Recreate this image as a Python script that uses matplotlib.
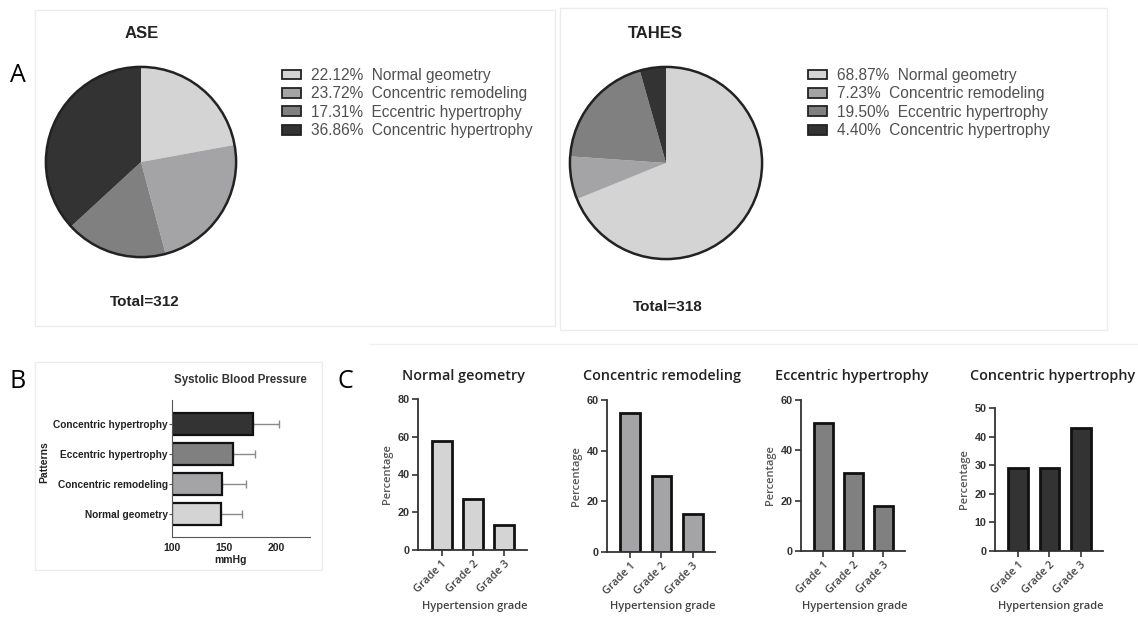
import matplotlib
matplotlib.use("Agg")
import matplotlib.pyplot as plt
from matplotlib.patches import Patch, Rectangle, Circle

# ---------------- data ----------------
patterns = ["Normal geometry", "Concentric remodeling", "Eccentric hypertrophy", "Concentric hypertrophy"]
ase_pct = [22.12, 23.72, 17.31, 36.86]
tahes_pct = [68.87, 7.23, 19.50, 4.40]
ase_total = 312
tahes_total = 318

sbp_mean = [147, 147.5, 158, 177]      # Normal, Conc. remodeling, Ecc. hypertrophy, Conc. hypertrophy
sbp_sd = [20, 23, 21, 25]

grades = ["Grade 1", "Grade 2", "Grade 3"]
grade_pct = {
    "Normal geometry": [57.5, 27, 13.5],
    "Concentric remodeling": [55, 30, 15],
    "Eccentric hypertrophy": [51, 31, 18],
    "Concentric hypertrophy": [29, 29, 43],
}
grade_ylim = {"Normal geometry": (80, 20), "Concentric remodeling": (60, 20),
              "Eccentric hypertrophy": (60, 20), "Concentric hypertrophy": (50, 10)}

colors = ["#d4d4d4", "#a4a4a6", "#808080", "#333333"]

W, H = 1138, 619
fig = plt.figure(figsize=(W / 100, H / 100), dpi=100)
fig.patch.set_facecolor("white")

def ax_px(x0, y0, x1, y1, **kw):
    return fig.add_axes([x0 / W, 1 - y1 / H, (x1 - x0) / W, (y1 - y0) / H], **kw)

def fx(x):
    return x / W

def fy(y):
    return 1 - y / H

# panel frames
for (x0, y0, x1, y1) in [(35, 10, 555, 326), (560, 8, 1107, 330), (35, 362, 322, 570)]:
    fig.patches.append(Rectangle((fx(x0), fy(y1)), fx(x1) - fx(x0), fy(y0) - fy(y1),
                                 transform=fig.transFigure, fill=False,
                                 edgecolor="#ececec", lw=1))
fig.lines.append(plt.Line2D([fx(370), fx(1138)], [fy(344), fy(344)],
                            transform=fig.transFigure, color="#f0f0f0", lw=1))

# panel letters
for txt, x, y in [("A", 18, 75), ("B", 18, 382), ("C", 345, 382)]:
    fig.text(fx(x), fy(y), txt, fontsize=18, family="Open Sans", ha="center", va="center")

# ---------------- Panel A pies ----------------
def draw_pie(cx, cy, r, pct, title, title_xy, total, total_xy, leg_xy):
    ax = ax_px(cx - r, cy - r, cx + r, cy + r)
    ax.pie(pct, colors=colors, startangle=90, counterclock=False, radius=1,
           wedgeprops=dict(edgecolor="none", linewidth=0))
    ax.add_patch(Circle((0, 0), 1, fill=False, edgecolor="#222222", lw=1.8))
    ax.set_xlim(-1.02, 1.02)
    ax.set_ylim(-1.02, 1.02)
    ax.set_aspect("auto")
    ax.axis("off")
    fig.text(fx(title_xy[0]), fy(title_xy[1]), title, fontsize=12, weight="bold",
             family="Liberation Sans", ha="center", va="center", color="#222222")
    fig.text(fx(total_xy[0]), fy(total_xy[1]), f"Total={total}", fontsize=11, weight="bold",
             family="Liberation Sans", ha="center", va="center", color="#222222")
    handles = [Patch(facecolor=c, edgecolor="#222222", lw=1.3) for c in colors]
    labels = [f"{p:.2f}%  {n}" for p, n in zip(pct, patterns)]
    fig.legend(handles, labels, loc="upper left", bbox_to_anchor=(fx(leg_xy[0]), fy(leg_xy[1])),
               frameon=False, handlelength=1.25, handleheight=0.6, handletextpad=0.62,
               labelspacing=0.22, borderaxespad=0, borderpad=0,
               prop=dict(family="Liberation Sans", size=11.2), labelcolor="#505050")

draw_pie(141, 162, 97, ase_pct, "ASE", (142, 33), ase_total, (145, 302), (282, 68))
draw_pie(666, 163, 98, tahes_pct, "TAHES", (655, 33), tahes_total, (668, 307), (808, 68))

# ---------------- Panel B ----------------
axb = ax_px(172, 400, 310, 537)
ypos = list(range(len(patterns)))
axb.barh(ypos, [m - 100 for m in sbp_mean], left=100, height=0.72, color=colors,
         edgecolor="#111111", lw=1.6, zorder=2)
axb.errorbar(sbp_mean, ypos, xerr=[[0] * 4, sbp_sd], fmt="none", ecolor="#8a8a8a",
             elinewidth=1.0, capsize=3, capthick=1.0, zorder=1)
axb.set_xlim(100, 232)
axb.set_ylim(-0.77, 3.8)
axb.set_xticks([100, 150, 200])
axb.set_yticks(ypos)
axb.set_yticklabels(patterns, fontsize=7.3, weight="bold", family="Liberation Sans", color="#222222")
axb.set_xticklabels(["100", "150", "200"], fontsize=7.5, weight="bold", family="Liberation Sans",
                    color="#222222")
for s in ["top", "right"]:
    axb.spines[s].set_visible(False)
axb.spines["left"].set_color("#555555")
axb.spines["bottom"].set_color("#555555")
axb.spines["bottom"].set_linestyle((0, (2, 1)))
axb.tick_params(axis="y", length=2, pad=1, color="#555555")
axb.tick_params(axis="x", length=0, pad=4)
fig.text(fx(240), fy(380), "Systolic Blood Pressure", fontsize=8.3, weight="bold",
         family="Liberation Sans", ha="center", va="center", color="#333333")
fig.text(fx(44), fy(462), "Patterns", fontsize=7.5, weight="bold", family="Liberation Sans",
         rotation=90, ha="center", va="center", color="#222222")
fig.text(fx(230), fy(560), "mmHg", fontsize=7.5, weight="bold", family="Liberation Sans",
         ha="center", va="center", color="#222222")

# ---------------- Panel C ----------------
c_axes = [(418, 399, 527, 550), (607, 400, 715, 552), (801, 400, 905, 551), (995, 408, 1103, 551)]
c_titles_x = [463, 662, 852, 1053]
for i, name in enumerate(patterns):
    x0, y0, x1, y1 = c_axes[i]
    ax = ax_px(x0, y0, x1, y1)
    vals = grade_pct[name]
    ax.bar(range(3), vals, width=0.64, color=colors[i], edgecolor="#111111", lw=2.0)
    top, step = grade_ylim[name]
    ax.set_ylim(0, top)
    ax.set_xlim(-0.75, 2.72)
    ax.set_yticks(range(0, top + 1, step))
    ax.set_yticklabels([str(v) for v in range(0, top + 1, step)], fontsize=7.8, weight="bold",
                       family="Liberation Sans", color="#333333")
    ax.set_xticks(range(3))
    ax.set_xticklabels(grades, rotation=45, ha="right", rotation_mode="anchor",
                       fontsize=7.8, family="Open Sans", weight="semibold", color="#444444")
    for s in ["top", "right"]:
        ax.spines[s].set_visible(False)
    for s in ["left", "bottom"]:
        ax.spines[s].set_linewidth(1.3)
        ax.spines[s].set_color("#333333")
    ax.tick_params(length=4, width=1.2, color="#333333", pad=2)
    ax.set_ylabel("Percentage", fontsize=8, family="Open Sans", weight="semibold",
                  color="#555555", labelpad=3)
    fig.text(fx((x0 + x1) / 2 + 2), fy(607), "Hypertension grade", fontsize=8, weight="semibold",
             family="Open Sans", ha="center", va="center", color="#444444")
    fig.text(fx(c_titles_x[i]), fy(376), name, fontsize=10.4, weight="semibold",
             family="Open Sans", ha="center", va="center", color="#222222")

fig.savefig("out.png", dpi=100, facecolor="white")
